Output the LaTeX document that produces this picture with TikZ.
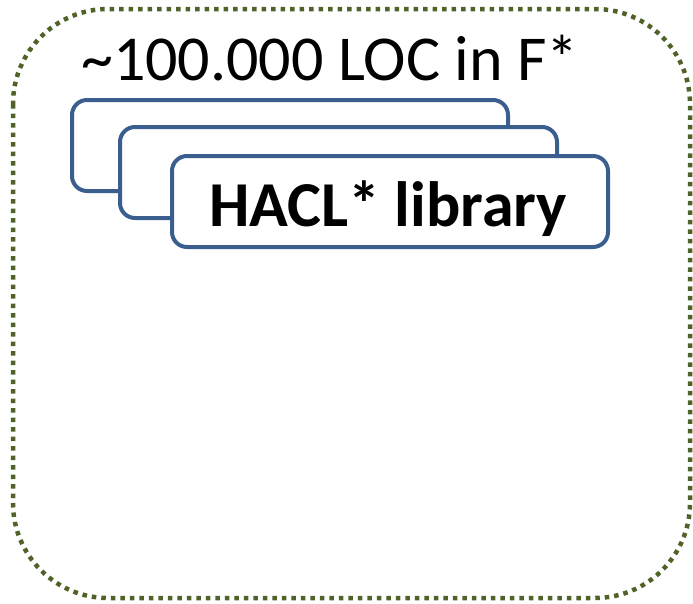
\documentclass[tikz,border=0pt]{standalone}
\usepackage{fontspec}
\setmainfont{Carlito}
\definecolor{olivedot}{HTML}{4F6228}
\definecolor{boxblue}{HTML}{3A5F8F}
\begin{document}
\begin{tikzpicture}[x=1pt,y=-1pt,
  outer/.style={draw=olivedot,line width=4.5pt,dash pattern=on 4.5pt off 5pt,rounded corners=95pt},
  libbox/.style={draw=boxblue,line width=4pt,fill=white,rounded corners=15pt}]
\useasboundingbox (0,0) rectangle (693,603);
\draw[outer] (13,9) rectangle (690,598);
\node[anchor=base west,inner sep=0pt,font=\fontsize{64}{72}\selectfont] (loc) at (81,80) {\textasciitilde 100.000 LOC in F*};
\draw[libbox] (72,100) rectangle (508,191) coordinate (b1);
\draw[libbox] (120,127) rectangle (557,218) coordinate (b2);
\node[libbox,minimum width=436pt,minimum height=91pt,anchor=north west,inner sep=0pt] (b3) at (170,154) {};
\node[anchor=base,inner sep=0pt,font=\fontsize{64}{72}\selectfont\bfseries] (lbl) at ([xshift=-2pt,yshift=-25pt]b3.center) {HACL* library};
\end{tikzpicture}
\end{document}
